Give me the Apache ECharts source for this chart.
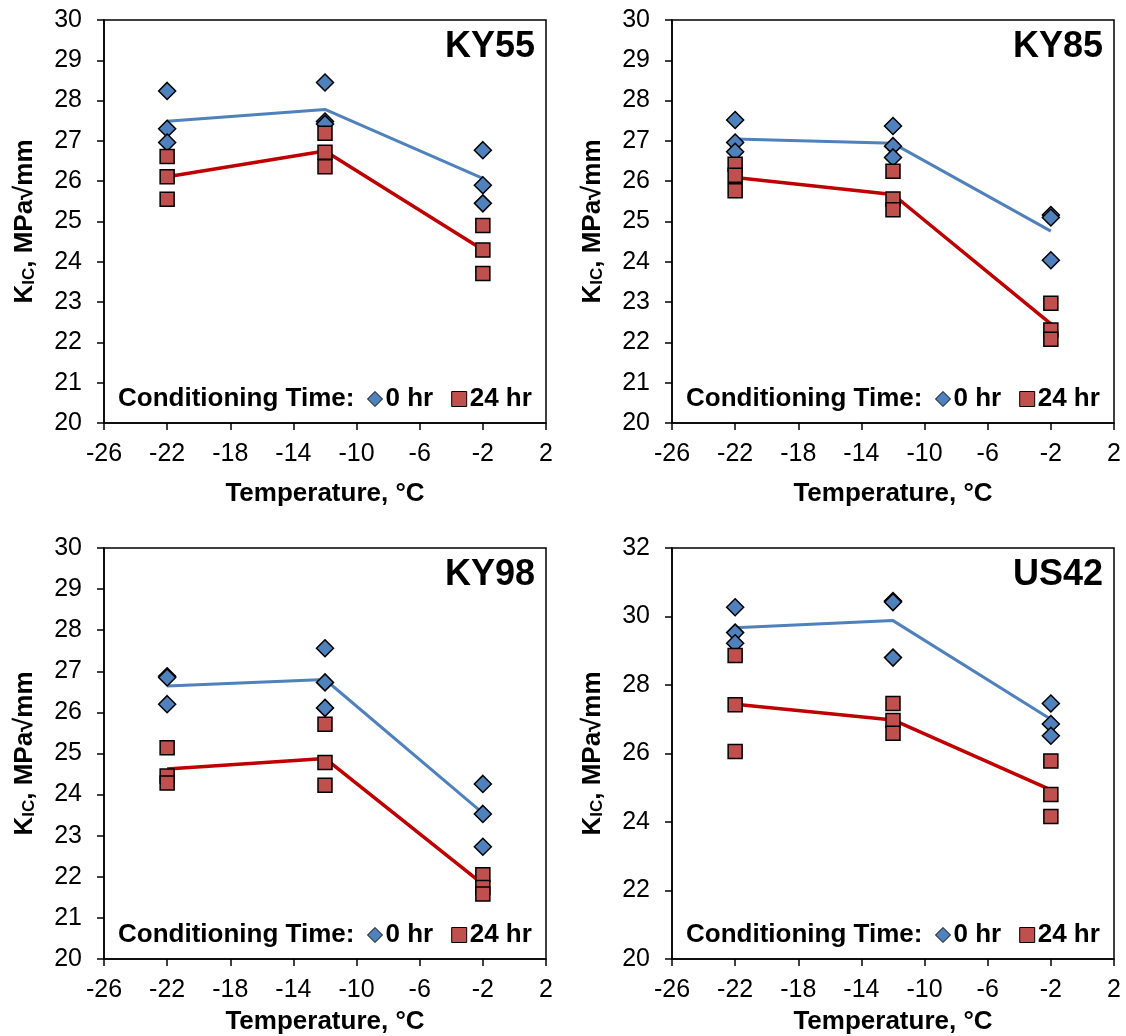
<!DOCTYPE html>
<html>
<head>
<meta charset="utf-8">
<script src="https://cdn.jsdelivr.net/npm/echarts@6/dist/echarts.min.js"></script>
<style>
  html, body { margin: 0; padding: 0; background: #fff; }
  #chart { width: 1126px; height: 1036px; }
</style>
</head>
<body>
<div id="chart"></div>
<script>
// ---------- data ----------
const temps = [-22, -12, -2];
const xTicks = [-26, -22, -18, -14, -10, -6, -2, 2];
const panelNames = ['KY55', 'KY85', 'KY98', 'US42'];

// individual specimens (per temperature)
const ky55_0hr  = [[28.24, 27.30, 26.96], [28.45, 27.48, 27.42], [26.77, 25.90, 25.45]];
const ky55_24hr = [[26.61, 26.11, 25.55], [27.19, 26.72, 26.36], [24.90, 24.29, 23.71]];
const ky85_0hr  = [[27.52, 26.96, 26.73], [27.37, 26.87, 26.59], [25.16, 25.10, 24.04]];
const ky85_24hr = [[26.42, 26.15, 25.76], [26.25, 25.56, 25.29], [22.97, 22.31, 22.08]];
const ky98_0hr  = [[26.88, 26.85, 26.20], [27.56, 26.73, 26.11], [24.26, 23.53, 22.73]];
const ky98_24hr = [[25.14, 24.45, 24.28], [25.71, 24.78, 24.23], [22.05, 21.74, 21.58]];
const us42_0hr  = [[30.27, 29.53, 29.22], [30.45, 30.42, 28.80], [27.46, 26.86, 26.52]];
const us42_24hr = [[28.86, 27.42, 26.06], [27.46, 26.96, 26.59], [25.78, 24.80, 24.16]];

// average lines
const ky55_0hr_avg  = [27.49, 27.78, 26.07];
const ky55_24hr_avg = [26.11, 26.75, 24.30];
const ky85_0hr_avg  = [27.05, 26.94, 24.76];
const ky85_24hr_avg = [26.09, 25.67, 22.46];
const ky98_0hr_avg  = [26.64, 26.80, 23.55];
const ky98_24hr_avg = [24.62, 24.88, 21.82];
const us42_0hr_avg  = [29.67, 29.88, 27.00];
const us42_24hr_avg = [27.44, 26.98, 24.94];

// y-axis ranges
const yMins = [20, 20, 20, 20];
const yMaxs = [30, 30, 30, 32];
const yIntervals = [1, 1, 1, 2];

const legendTitle = 'Conditioning Time:';
const seriesNames = ['0 hr', '24 hr'];
const xName = 'Temperature, \u00B0C';

// ---------- layout / style ----------
const FONT = 'Liberation Sans, Arial, Helvetica, sans-serif';
const BLUE = '#4F81BD', RED_FILL = '#C0504D', RED_LINE = '#C00000';
const layouts = [
  { left: 104, top: 20,  width: 442, height: 403, nameGap: 58 },
  { left: 672, top: 20,  width: 442, height: 403, nameGap: 58 },
  { left: 104, top: 548, width: 442, height: 411, nameGap: 50 },
  { left: 672, top: 548, width: 442, height: 411, nameGap: 50 }
];
const pts = [
  [ky55_0hr, ky55_24hr], [ky85_0hr, ky85_24hr], [ky98_0hr, ky98_24hr], [us42_0hr, us42_24hr]
];
const avgs = [
  [ky55_0hr_avg, ky55_24hr_avg], [ky85_0hr_avg, ky85_24hr_avg],
  [ky98_0hr_avg, ky98_24hr_avg], [us42_0hr_avg, us42_24hr_avg]
];

function scatterData(groups) {
  const out = [];
  groups.forEach((vals, i) => vals.forEach(v => out.push([temps[i], v])));
  return out;
}
function lineData(arr) { return arr.map((v, i) => [temps[i], v]); }

const grid = [], xAxis = [], yAxis = [], series = [], title = [], legend = [];
layouts.forEach((L, p) => {
  grid.push({ left: L.left, top: L.top, width: L.width, height: L.height,
    show: true, borderColor: '#000', borderWidth: 1.5, containLabel: false });
  xAxis.push({
    type: 'value', gridIndex: p, min: -26, max: 2,
    name: xName, nameLocation: 'middle', nameGap: L.nameGap,
    nameTextStyle: { fontFamily: FONT, fontSize: 26, fontWeight: 'bold', color: '#000' },
    axisLine: { show: true, onZero: false, lineStyle: { color: '#000', width: 1.5 } },
    axisTick: { show: true, length: 7, customValues: xTicks, lineStyle: { color: '#000', width: 1.5 } },
    axisLabel: { customValues: xTicks, margin: 19, fontFamily: FONT, fontSize: 25, color: '#000' },
    splitLine: { show: false }
  });
  yAxis.push({
    type: 'value', gridIndex: p, min: yMins[p], max: yMaxs[p], interval: yIntervals[p],
    name: '{k|K}{s|IC}{k|, MPa\u221Amm}', nameLocation: 'middle', nameRotate: 90, nameGap: 66,
    nameTextStyle: {
      fontFamily: FONT, color: '#000',
      rich: {
        k: { fontFamily: FONT, fontSize: 26, fontWeight: 'bold', color: '#000' },
        s: { fontFamily: FONT, fontSize: 17, fontWeight: 'bold', color: '#000', verticalAlign: 'bottom', padding: [6, 0, 0, 0] }
      }
    },
    axisLine: { show: true, onZero: false, lineStyle: { color: '#000', width: 1.5 } },
    axisTick: { show: true, length: 7, lineStyle: { color: '#000', width: 1.5 } },
    axisLabel: { margin: 22, fontFamily: FONT, fontSize: 25, color: '#000' },
    splitLine: { show: false }
  });
  // average lines
  series.push({ type: 'line', name: seriesNames[0] + ' avg', xAxisIndex: p, yAxisIndex: p,
    data: lineData(avgs[p][0]), symbol: 'none', silent: true, z: 2,
    lineStyle: { color: BLUE, width: 3 } });
  series.push({ type: 'line', name: seriesNames[1] + ' avg', xAxisIndex: p, yAxisIndex: p,
    data: lineData(avgs[p][1]), symbol: 'none', silent: true, z: 2,
    lineStyle: { color: RED_LINE, width: 3.5 } });
  // points
  series.push({ type: 'scatter', name: seriesNames[0], xAxisIndex: p, yAxisIndex: p,
    data: scatterData(pts[p][0]), symbol: 'diamond', symbolSize: 17, z: 3,
    itemStyle: { color: BLUE, borderColor: '#000', borderWidth: 1.5, opacity: 1 } });
  series.push({ type: 'scatter', name: seriesNames[1], xAxisIndex: p, yAxisIndex: p,
    data: scatterData(pts[p][1]), symbol: 'rect', symbolSize: 14, z: 4,
    itemStyle: { color: RED_FILL, borderColor: '#000', borderWidth: 1.5, opacity: 1 } });

  // panel label
  title.push({ text: panelNames[p], right: 1126 - (L.left + L.width - 11), top: L.top + 9, padding: 0,
    textStyle: { fontFamily: FONT, fontSize: 36, fontWeight: 'bold', color: '#000' } });
  // legend caption
  const legCenter = L.top + L.height - 23;
  title.push({ text: legendTitle, left: L.left + 14, top: legCenter - 14, padding: 0,
    textStyle: { fontFamily: FONT, fontSize: 26, fontWeight: 'bold', color: '#000' } });
  legend.push({
    left: L.left + 263, top: legCenter - 14, padding: 0, itemGap: 18,
    itemWidth: 15, itemHeight: 15, orient: 'horizontal', selectedMode: false,
    textStyle: { fontFamily: FONT, fontSize: 26, fontWeight: 'bold', color: '#000', padding: [0, 0, 0, -2] },
    data: [
      { name: seriesNames[0], icon: 'diamond', itemStyle: { color: BLUE, borderColor: '#000', borderWidth: 1 } },
      { name: seriesNames[1], icon: 'rect', itemStyle: { color: RED_FILL, borderColor: '#000', borderWidth: 1 } }
    ]
  });
});

const chart = echarts.init(document.getElementById('chart'), null, { renderer: 'canvas' });
chart.setOption({
  backgroundColor: '#fff',
  animation: false,
  grid, xAxis, yAxis, series, title, legend
});
</script>
</body>
</html>
